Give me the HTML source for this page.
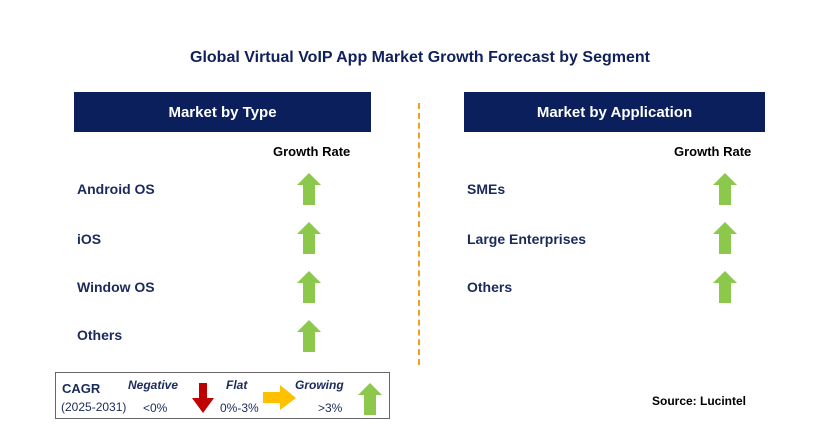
<!DOCTYPE html>
<html><head><meta charset="utf-8"><style>
body{margin:0;width:829px;height:445px;background:#fff;position:relative;overflow:hidden;font-family:"Liberation Sans",Arial,sans-serif}
.a{position:absolute}
.t{position:absolute;font-weight:bold;color:#1a2a5a;font-size:14px}
.hdr{position:absolute;background:#0b1f5c;color:#fff;font-weight:bold;font-size:15px;text-align:center;line-height:42px;height:40px}
</style></head><body>
<div class="t" style="left:0;width:840px;text-align:center;top:49px;font-size:16px;color:#10205a">Global Virtual VoIP App Market Growth Forecast by Segment</div>
<div class="hdr" style="left:74px;top:92px;width:297px">Market by Type</div>
<div class="hdr" style="left:464px;top:92px;width:301px">Market by Application</div>
<div class="a" style="left:418px;top:103px;height:262px;border-left:2px dashed #f0a020"></div>
<div class="t" style="left:273px;top:144px;color:#000;font-size:13px">Growth Rate</div>
<div class="t" style="left:674px;top:144px;color:#000;font-size:13px">Growth Rate</div>
<div class="t" style="left:77px;top:181px">Android OS</div>
<div class="t" style="left:77px;top:231px">iOS</div>
<div class="t" style="left:77px;top:279px">Window OS</div>
<div class="t" style="left:77px;top:327px">Others</div>
<div class="t" style="left:467px;top:181px">SMEs</div>
<div class="t" style="left:467px;top:231px">Large Enterprises</div>
<div class="t" style="left:467px;top:279px">Others</div>
<svg class="a" style="left:0;top:0" width="829" height="445">
<defs><g id="up"><polygon points="0,-16 12,-4 6,-4 6,16 -6,16 -6,-4 -12,-4" fill="#8cc84b"/></g></defs>
<use href="#up" x="309" y="189"/>
<use href="#up" x="309" y="238"/>
<use href="#up" x="309" y="287"/>
<use href="#up" x="309" y="336"/>
<use href="#up" x="725" y="189"/>
<use href="#up" x="725" y="238"/>
<use href="#up" x="725" y="287"/>
<rect x="55.5" y="372.5" width="334" height="46" fill="none" stroke="#666" stroke-width="1"/>
<polygon points="199,383 207,383 207,398 214,398 203,413 192,398 199,398" fill="#c00000"/>
<polygon points="263,392 280,392 280,385 296,398 280,410 280,403 263,403" fill="#ffc000"/>
<use href="#up" x="370" y="399"/>
</svg>
<div class="t" style="left:62px;top:381px;font-size:13px">CAGR</div>
<div class="a" style="left:61px;top:400px;font-size:12px;color:#1a2a5a">(2025-2031)</div>
<div class="t" style="left:128px;top:378px;font-size:12px;font-style:italic">Negative</div>
<div class="a" style="left:143px;top:401px;font-size:12px;color:#1a2a5a">&lt;0%</div>
<div class="t" style="left:226px;top:378px;font-size:12px;font-style:italic">Flat</div>
<div class="a" style="left:220px;top:401px;font-size:12px;color:#1a2a5a">0%-3%</div>
<div class="t" style="left:295px;top:378px;font-size:12px;font-style:italic">Growing</div>
<div class="a" style="left:318px;top:401px;font-size:12px;color:#1a2a5a">&gt;3%</div>
<div class="t" style="left:652px;top:394px;font-size:12px;color:#000">Source: Lucintel</div>
</body></html>
